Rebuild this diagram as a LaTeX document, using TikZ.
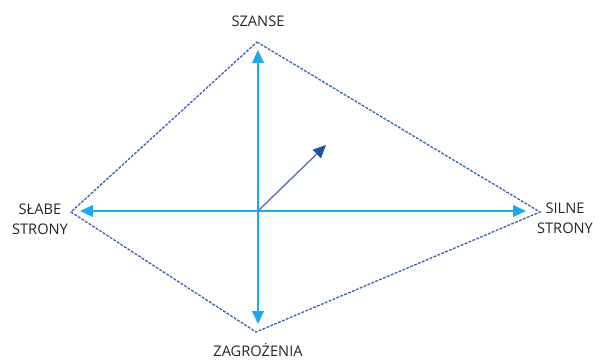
\documentclass[tikz,border=0pt]{standalone}
\usepackage{fontspec}
\setmainfont{Open Sans}
\usetikzlibrary{arrows.meta}

\definecolor{framecol}{HTML}{3A5DAE}
\definecolor{axiscol}{HTML}{1CA9EE}
\definecolor{vectcol}{HTML}{5A78B0}
\definecolor{tipcol}{HTML}{1B55A3}

\tikzset{
  frame/.style={framecol,line width=1.1pt,dash pattern=on 2.4pt off 1.2pt},
  axis/.style={axiscol,line width=1.2pt,-{Triangle[length=11pt,width=10pt]}},
  vect/.style={vectcol,line width=1.2pt,-{Triangle[length=11pt,width=10pt,color=tipcol]}},
  word/.style={font=\fontsize{12.5}{17}\selectfont,text=black!85,align=center,inner sep=0pt}
}

\begin{document}
\begin{tikzpicture}[x=0.03cm,y=-0.03cm]
\useasboundingbox (0,0) rectangle (600,361);

% Corners
\coordinate (top) at (257,42);
\coordinate (right) at (540,212);
\coordinate (bottom) at (256,332);
\coordinate (left) at (71,212);
\coordinate (o) at (258,211);

% Arrow ends
\coordinate (up) at (258,50);
\coordinate (down) at (258,324);
\coordinate (west) at (80,211);
\coordinate (east) at (526,211);
\coordinate (ne) at (326,145);

% Frame
\draw[frame] (top) -- (right) -- (bottom) -- (left) -- cycle;

% Axes
\draw[axis] (o) -- (up);
\draw[axis] (o) -- (down);
\draw[axis] (o) -- (west);
\draw[axis] (o) -- (east);

% Vector
\draw[vect] (o) -- (ne);

% Labels
\node[word] (szanse) at (258,21) {SZANSE};
\node[word] (slabe) at (40,219) {SŁABE\\STRONY};
\node[word] (silne) at (565,218) {SILNE\\STRONY};
\node[word] (zagrozenia) at (258,350) {ZAGROŻENIA};

\end{tikzpicture}
\end{document}
